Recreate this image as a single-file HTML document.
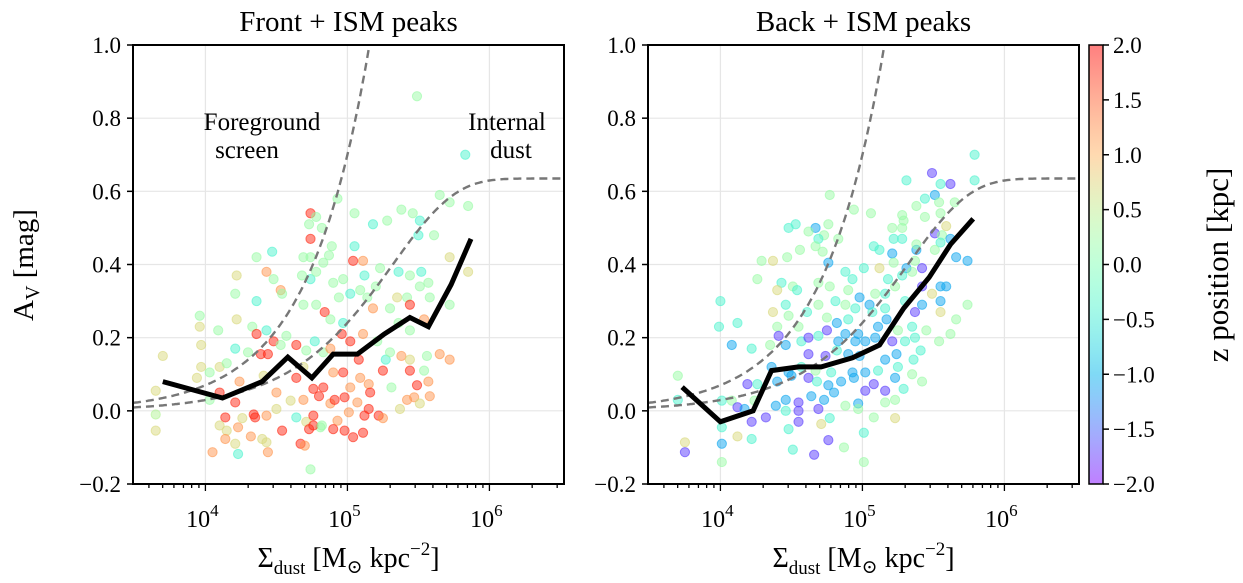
<!DOCTYPE html>
<html><head><meta charset="utf-8"><style>
html,body{margin:0;padding:0;background:#fff;}
svg{display:block;font-family:"Liberation Serif","DejaVu Serif",serif;}
</style></head><body>
<svg id="chart" width="1243" height="583" viewBox="0 0 1243 583" xmlns="http://www.w3.org/2000/svg">
<defs>
<linearGradient id="cbgrad" x1="0" y1="1" x2="0" y2="0"></linearGradient>
</defs>
</svg>
<script>
const yTicks=[-0.2,0,0.2,0.4,0.6,0.8,1.0];
const yTickLabels=["\u22120.2","0.0","0.2","0.4","0.6","0.8","1.0"];
const xTicksLog=[4,5,6];
const cbTicks=[-2,-1.5,-1,-0.5,0,0.5,1,1.5,2];
const cbTickLabels=["\u22122.0","\u22121.5","\u22121.0","\u22120.5","0.0","0.5","1.0","1.5","2.0"];
const frontLineX=[3.70,4.12,4.40,4.58,4.75,4.90,5.07,5.26,5.44,5.57,5.73,5.87];
const frontLineY=[0.08,0.035,0.08,0.147,0.09,0.155,0.155,0.21,0.255,0.23,0.345,0.47];
const backLineX=[3.73,4.0,4.23,4.36,4.55,4.71,4.93,5.12,5.29,5.47,5.62,5.78];
const backLineY=[0.065,-0.03,0.0,0.11,0.12,0.12,0.145,0.18,0.28,0.365,0.455,0.525];
const screenCoef=7e-6;
const internalMax=0.635, internalScale=2.1e5;
const frontPoints=[[5.49,0.86,0.2],[5.83,0.70,-0.4],[5.65,0.59,0.2],[5.72,0.57,0.2],[5.85,0.56,0.2],[4.93,0.58,0.2],[4.74,0.54,1.8],[4.78,0.53,0.2],[4.82,0.50,0.2],[4.74,0.47,1.8],[4.73,0.51,0.2],[5.05,0.54,0.2],[5.18,0.51,-0.4],[5.28,0.52,0.2],[5.38,0.55,0.2],[5.46,0.54,0.2],[5.51,0.52,-0.4],[5.50,0.48,-0.4],[5.61,0.48,0.2],[4.47,0.435,-0.4],[4.36,0.42,0.2],[4.69,0.42,0.2],[4.74,0.42,0.2],[4.83,0.405,0.2],[4.89,0.45,0.2],[4.87,0.425,0.2],[5.05,0.45,-0.4],[5.04,0.41,1.8],[5.11,0.41,1.2],[5.12,0.37,-0.4],[5.23,0.39,0.2],[5.36,0.38,-0.4],[5.44,0.37,0.2],[5.52,0.38,-0.4],[5.72,0.42,0.7],[5.85,0.38,0.7],[4.43,0.38,1.2],[4.22,0.37,0.7],[4.53,0.33,1.2],[4.48,0.36,0.2],[4.54,0.32,0.2],[4.21,0.32,0.2],[4.36,0.30,-0.4],[4.68,0.37,0.2],[4.74,0.36,-0.4],[4.78,0.38,0.2],[4.90,0.35,0.2],[4.97,0.36,0.2],[4.94,0.31,0.2],[5.02,0.32,-0.4],[5.09,0.33,0.2],[5.14,0.31,0.2],[5.20,0.34,0.2],[5.35,0.31,0.7],[5.42,0.31,0.2],[5.51,0.34,0.2],[5.57,0.35,0.2],[5.58,0.31,0.2],[5.72,0.29,0.2],[3.96,0.26,0.2],[3.96,0.23,0.7],[4.09,0.22,0.2],[4.22,0.25,0.7],[4.33,0.23,0.2],[4.36,0.21,1.8],[4.43,0.22,-0.4],[4.48,0.19,1.8],[4.57,0.205,0.2],[4.64,0.18,1.8],[4.69,0.29,0.2],[4.78,0.29,0.2],[4.84,0.27,1.8],[4.88,0.25,0.2],[4.97,0.24,-0.4],[4.96,0.21,1.8],[5.02,0.19,1.8],[5.11,0.21,1.2],[5.18,0.28,1.2],[5.30,0.28,0.2],[5.44,0.29,1.8],[5.36,0.24,0.2],[5.44,0.22,0.2],[5.54,0.25,1.2],[3.97,0.18,0.7],[4.21,0.17,-0.4],[4.30,0.16,0.2],[4.39,0.155,1.8],[4.44,0.155,1.8],[4.53,0.18,0.2],[4.71,0.165,0.2],[4.77,0.19,-0.4],[4.83,0.16,0.2],[4.88,0.17,1.2],[5.08,0.14,1.8],[5.21,0.19,0.2],[5.27,0.14,-0.4],[5.30,0.16,0.2],[5.38,0.15,1.2],[5.44,0.14,0.7],[5.56,0.15,0.2],[5.65,0.155,1.2],[5.72,0.14,1.2],[3.70,0.15,0.7],[3.97,0.12,0.7],[4.03,0.105,0.2],[4.10,0.12,0.7],[4.15,0.13,0.2],[4.24,0.08,1.2],[4.41,0.096,0.7],[4.50,0.05,1.2],[4.64,0.09,1.8],[4.69,0.12,0.7],[4.76,0.06,1.8],[4.80,0.04,1.8],[4.83,0.064,1.8],[4.90,0.105,1.2],[4.97,0.105,1.8],[5.02,0.064,1.2],[5.09,0.09,1.2],[5.15,0.073,1.2],[5.16,0.05,1.8],[5.25,0.11,1.8],[5.31,0.064,0.2],[5.44,0.11,1.8],[5.49,0.07,1.8],[5.54,0.11,0.2],[5.57,0.08,1.2],[5.58,0.04,1.2],[3.65,0.055,0.7],[3.65,-0.01,0.4],[3.65,-0.054,0.7],[3.94,0.09,0.7],[4.03,0.03,0.2],[4.10,0.05,1.8],[4.14,-0.018,1.8],[4.21,0.023,1.8],[4.26,-0.02,0.7],[4.34,-0.01,1.8],[4.35,-0.018,1.8],[4.43,-0.013,1.2],[4.50,0.005,0.7],[4.60,0.028,0.7],[4.64,-0.018,-0.4],[4.69,0.03,1.2],[4.71,-0.03,0.7],[4.76,-0.013,1.8],[4.81,-0.045,0.2],[4.88,0.02,1.2],[4.91,0.03,1.8],[4.93,-0.027,1.2],[4.98,0.037,1.8],[5.01,-0.004,1.2],[5.07,0.023,1.2],[5.12,-0.013,1.8],[5.15,0.005,1.8],[5.22,-0.013,1.8],[5.25,-0.02,1.2],[5.37,0.005,0.7],[5.42,0.03,1.2],[5.47,0.037,1.2],[5.51,0.02,0.7],[4.10,-0.04,0.7],[4.15,-0.054,0.7],[4.23,-0.045,1.2],[4.32,-0.07,1.2],[4.40,-0.077,0.7],[4.43,-0.086,0.7],[4.54,-0.054,1.8],[4.73,-0.05,1.8],[4.76,-0.04,1.8],[4.82,-0.04,0.2],[4.90,-0.05,1.8],[4.98,-0.054,1.8],[5.04,-0.072,1.8],[5.11,-0.06,1.8],[4.05,-0.113,1.2],[4.14,-0.077,1.2],[4.21,-0.09,0.7],[4.23,-0.118,-0.4],[4.44,-0.113,1.2],[4.67,-0.09,1.8],[4.70,-0.095,1.2],[4.74,-0.16,0.2]];
const backPoints=[[5.79,0.70,-0.4],[5.49,0.65,-1.7],[5.31,0.63,-0.4],[5.55,0.62,-0.4],[5.62,0.62,-1.7],[5.79,0.63,-0.4],[4.77,0.59,0.2],[5.51,0.59,-1.1],[5.44,0.58,-0.4],[5.54,0.57,0.2],[5.65,0.57,0.2],[5.38,0.56,0.2],[4.94,0.55,0.2],[5.06,0.54,0.2],[5.28,0.535,0.2],[5.55,0.54,0.2],[5.29,0.52,0.2],[5.44,0.53,0.2],[5.59,0.505,0.7],[4.48,0.50,-0.4],[4.53,0.51,-0.4],[4.67,0.50,-1.1],[4.76,0.51,0.2],[4.62,0.49,0.2],[4.73,0.48,0.2],[4.83,0.47,0.2],[4.69,0.47,-0.4],[4.67,0.45,0.2],[4.56,0.44,0.2],[4.72,0.435,0.2],[5.21,0.50,0.2],[5.28,0.50,0.2],[5.22,0.47,-0.4],[5.28,0.47,-0.4],[5.51,0.485,-1.7],[5.56,0.48,0.2],[5.55,0.46,-0.4],[5.62,0.47,-1.1],[5.08,0.45,-0.4],[5.12,0.44,-0.4],[5.21,0.43,-1.1],[5.38,0.44,-1.1],[5.51,0.44,0.2],[5.38,0.455,0.2],[4.29,0.41,0.2],[4.37,0.41,0.7],[4.47,0.42,0.2],[4.76,0.405,-1.1],[5.01,0.39,-0.4],[5.12,0.39,0.7],[5.22,0.405,0.2],[5.37,0.41,0.2],[5.31,0.39,-1.1],[5.42,0.39,-1.7],[5.66,0.42,-1.1],[5.74,0.41,-1.1],[4.88,0.38,-0.4],[4.93,0.36,-0.4],[5.18,0.36,-0.4],[5.28,0.37,-0.4],[5.35,0.38,0.2],[4.26,0.36,0.2],[4.43,0.35,-0.4],[4.40,0.33,0.7],[4.51,0.34,0.2],[4.54,0.33,-0.4],[4.69,0.35,0.2],[4.77,0.34,0.2],[4.90,0.33,0.2],[4.98,0.31,-1.1],[5.09,0.32,0.2],[5.16,0.32,-0.4],[5.23,0.34,0.2],[5.42,0.34,-1.7],[5.55,0.34,-1.1],[5.59,0.34,-1.1],[5.49,0.32,0.7],[5.55,0.30,-1.1],[4.00,0.30,-0.4],[4.46,0.29,-0.4],[4.61,0.27,-0.4],[4.69,0.29,0.2],[4.81,0.30,-0.4],[4.88,0.29,0.2],[4.95,0.28,-0.4],[5.05,0.29,-1.1],[5.16,0.28,-0.4],[5.30,0.30,-0.4],[5.37,0.27,-1.7],[5.42,0.29,-1.1],[5.74,0.29,0.2],[4.37,0.27,0.7],[4.48,0.26,0.2],[4.75,0.255,0.2],[4.82,0.24,-1.1],[4.90,0.25,-0.4],[5.07,0.27,-0.4],[5.17,0.25,-1.1],[5.55,0.27,0.7],[5.66,0.25,0.2],[3.99,0.23,-0.4],[4.12,0.24,-0.4],[4.40,0.23,0.2],[4.55,0.23,0.2],[4.75,0.22,-1.7],[4.88,0.21,-1.1],[4.97,0.21,-1.1],[5.11,0.23,-1.1],[5.25,0.22,0.2],[5.35,0.23,-0.4],[5.45,0.22,0.2],[5.62,0.21,0.2],[4.41,0.205,-1.7],[4.57,0.19,-0.4],[4.62,0.20,-1.7],[4.69,0.205,-0.4],[4.83,0.19,-1.1],[4.95,0.19,-1.1],[5.02,0.19,-1.1],[5.09,0.20,-1.1],[5.21,0.19,-1.7],[5.30,0.19,-0.4],[5.37,0.20,-0.4],[5.54,0.19,0.2],[4.08,0.18,-1.1],[4.22,0.17,-0.4],[4.35,0.18,0.2],[4.46,0.18,-1.1],[4.62,0.155,-1.7],[4.74,0.15,-1.7],[4.82,0.165,-0.4],[4.90,0.155,-1.1],[4.98,0.15,-1.1],[5.16,0.14,-1.1],[5.24,0.155,-1.1],[5.36,0.14,-0.4],[5.41,0.165,-0.4],[4.36,0.12,-1.1],[4.48,0.105,-1.1],[4.57,0.12,-0.4],[4.67,0.11,0.2],[4.78,0.105,-0.4],[4.93,0.105,-1.1],[5.02,0.105,-1.1],[5.11,0.11,-0.4],[5.25,0.12,-0.4],[5.35,0.10,0.2],[5.42,0.08,0.2],[3.70,0.096,0.2],[4.19,0.073,-1.7],[4.26,0.073,-0.4],[4.40,0.08,-1.1],[4.50,0.096,-1.1],[4.62,0.09,-1.7],[4.68,0.08,-0.4],[4.76,0.07,-1.1],[4.85,0.08,-1.1],[4.94,0.09,-1.1],[5.02,0.055,-1.7],[5.08,0.073,-1.7],[5.16,0.055,-1.7],[5.23,0.09,-1.1],[5.29,0.06,-0.4],[3.70,0.03,-0.4],[4.01,0.028,-0.4],[4.08,0.028,0.2],[4.12,0.01,-1.7],[4.17,0.005,-1.1],[4.24,0.028,0.2],[4.39,0.014,-1.1],[4.46,0.03,-1.1],[4.55,0.023,-1.7],[4.64,0.04,-1.1],[4.73,0.03,-1.1],[4.80,0.05,-1.1],[4.88,0.014,0.2],[4.97,0.02,-1.1],[5.16,0.023,0.2],[5.23,0.03,0.2],[4.01,-0.045,-0.4],[4.22,-0.03,-1.7],[4.32,-0.018,-1.7],[4.46,0.0,-0.4],[4.55,0.0,-1.7],[4.69,0.005,-1.7],[4.77,-0.02,-0.4],[4.97,0.005,0.2],[5.08,-0.018,0.2],[5.23,-0.02,0.7],[4.48,-0.05,-0.4],[4.55,-0.03,-1.7],[4.71,-0.036,0.7],[4.12,-0.07,0.7],[4.22,-0.077,-0.4],[5.01,-0.06,-0.4],[3.75,-0.086,0.7],[3.75,-0.113,-1.7],[4.01,-0.09,-1.1],[4.51,-0.106,-0.4],[4.66,-0.12,-1.7],[4.76,-0.08,-1.7],[4.87,-0.10,0.2],[4.01,-0.14,0.2],[5.01,-0.14,0.2]];

const NS="http://www.w3.org/2000/svg";
const svg=document.getElementById('chart');
const PT=45, PB=484, XMINLOG=3.49, PXDEC=142;
function el(tag,attrs,parent){const e=document.createElementNS(NS,tag);for(const k in attrs)e.setAttribute(k,attrs[k]);(parent||svg).appendChild(e);return e;}
function yS(v){return PB-(v+0.2)/1.2*(PB-PT);}
function rainbow(z){let x=(z+2)/4;x=Math.max(0,Math.min(1,x));
 const r=Math.min(1,Math.abs(2*x-0.5)),g=Math.sin(Math.PI*x),b=Math.cos(Math.PI*x/2);
 return `rgb(${Math.round(r*255)},${Math.round(g*255)},${Math.round(b*255)})`;}

function panel(name,left,title,pts,lx,ly){
 const right=left+431;
 const xS=l=>left+(l-XMINLOG)*PXDEC;
 const g=el('g',{});
 
 
 yTicks.forEach(v=>{const gl=el('line',{x1:left,x2:right,y1:yS(v),y2:yS(v),stroke:'#e6e6e6','stroke-width':1.2},g);
  });
 xTicksLog.forEach(l=>{const gl=el('line',{x1:xS(l),x2:xS(l),y1:PT,y2:PB,stroke:'#e6e6e6','stroke-width':1.2},g);
  });
 const pg=el('g',{},g);
 
 pts.forEach(p=>{const col=rainbow(p[2]);const c=el('circle',{cx:xS(p[0]),cy:yS(p[1]),r:4.6,fill:col,'fill-opacity':0.5,stroke:col,'stroke-opacity':0.6,'stroke-width':1},pg);
  });
 let d1='',d2='';
 for(let l=XMINLOG;l<=6.52;l+=0.01){const s=Math.pow(10,l);
  const a1=screenCoef*s; if(a1<=1.0){d1+=(d1?'L':'M')+xS(l).toFixed(1)+','+yS(a1).toFixed(1);}
  const a2=internalMax*(1-Math.exp(-s/internalScale)); d2+=(d2?'L':'M')+xS(l).toFixed(1)+','+yS(a2).toFixed(1);}
 const c1=el('path',{d:d1,fill:'none',stroke:'#777','stroke-width':2.4,'stroke-dasharray':'8,5'},g);
 
 const c2=el('path',{d:d2,fill:'none',stroke:'#777','stroke-width':2.4,'stroke-dasharray':'8,5'},g);
 
 const ml=el('polyline',{points:lx.map((l,i)=>xS(l).toFixed(1)+','+yS(ly[i]).toFixed(1)).join(' '),fill:'none',stroke:'#000','stroke-width':5,'stroke-linejoin':'miter'},g);
 
 const fr=el('rect',{x:left,y:PT,width:right-left,height:PB-PT,fill:'none',stroke:'#000','stroke-width':2},g);
 
 yTicks.forEach((v,i)=>{el('line',{x1:left-6,x2:left,y1:yS(v),y2:yS(v),stroke:'#000','stroke-width':1.5},g);
  const t=el('text',{x:left-12,y:yS(v)+8,'text-anchor':'end','font-size':23},g);t.textContent=yTickLabels[i];
  });
 for(let dec=3;dec<=6;dec++){for(let m=1;m<10;m++){const l=dec+Math.log10(m);if(l<XMINLOG||l>6.52)continue;
  const len=m===1?7:4;el('line',{x1:xS(l),x2:xS(l),y1:PB,y2:PB+len,stroke:'#000','stroke-width':1.3},g);}}
 xTicksLog.forEach(l=>{const t=el('text',{x:xS(l)-3,y:PB+43,'text-anchor':'middle','font-size':24},g);
  t.textContent='10';const s=el('tspan',{dy:-11,'font-size':17},t);s.textContent=String(l);
  });
 const tt=el('text',{x:(left+right)/2,y:31,'text-anchor':'middle','font-size':29},g);tt.textContent=title;
 
 const xl=el('text',{x:(left+right)/2,y:567,'text-anchor':'middle','font-size':28},g);
 
 xl.appendChild(document.createTextNode('\u03A3'));
 const sb=el('tspan',{dy:7,'font-size':19},xl);sb.textContent='dust';
 const r1=el('tspan',{dy:-7},xl);r1.textContent=' [M';
 const sb2=el('tspan',{dy:6,'font-size':19},xl);sb2.textContent='\u2299';
 const r2=el('tspan',{dy:-6},xl);r2.textContent=' kpc';
 const sp=el('tspan',{dy:-12,'font-size':19},xl);sp.textContent='\u22122';
 const r3=el('tspan',{dy:12},xl);r3.textContent=']';
 return xS;
}
panel('front',133,'Front + ISM peaks',frontPoints,frontLineX,frontLineY);
panel('back',648,'Back + ISM peaks',backPoints,backLineX,backLineY);

[['Foreground',262,130,25],['screen',247,158,25],['Internal',507,130,25],['dust',511,158,25]].forEach(a=>{
 const t=el('text',{x:a[1],y:a[2],'text-anchor':'middle','font-size':a[3]});t.textContent=a[0];
 });

const yl=el('text',{transform:'translate(33,265) rotate(-90)','text-anchor':'middle','font-size':29});

yl.appendChild(document.createTextNode('A'));
const ys=el('tspan',{dy:6,'font-size':20},yl);ys.textContent='V';
const yr=el('tspan',{dy:-6},yl);yr.textContent=' [mag]';

const grad=document.getElementById('cbgrad');
for(let i=0;i<=20;i++){const z=-2+4*i/20;el('stop',{offset:(i/20).toFixed(2),'stop-color':rainbow(z),'stop-opacity':0.5},grad);}
const CBX=1089,CBW=14;
const cbS=z=>PB-(z+2)/4*(PB-PT);
const cb=el('rect',{x:CBX,y:PT,width:CBW,height:PB-PT,fill:'url(#cbgrad)',stroke:'#000','stroke-width':1.5});

cbTicks.forEach((z,i)=>{el('line',{x1:CBX+CBW,x2:CBX+CBW+6,y1:cbS(z),y2:cbS(z),stroke:'#000','stroke-width':1.5});
 const t=el('text',{x:CBX+CBW+10,y:cbS(z)+8,'font-size':23});t.textContent=cbTickLabels[i];
 });
const cl=el('text',{transform:'translate(1228,265) rotate(-90)','text-anchor':'middle','font-size':31});
cl.textContent='z position [kpc]';

</script>
</body></html>
